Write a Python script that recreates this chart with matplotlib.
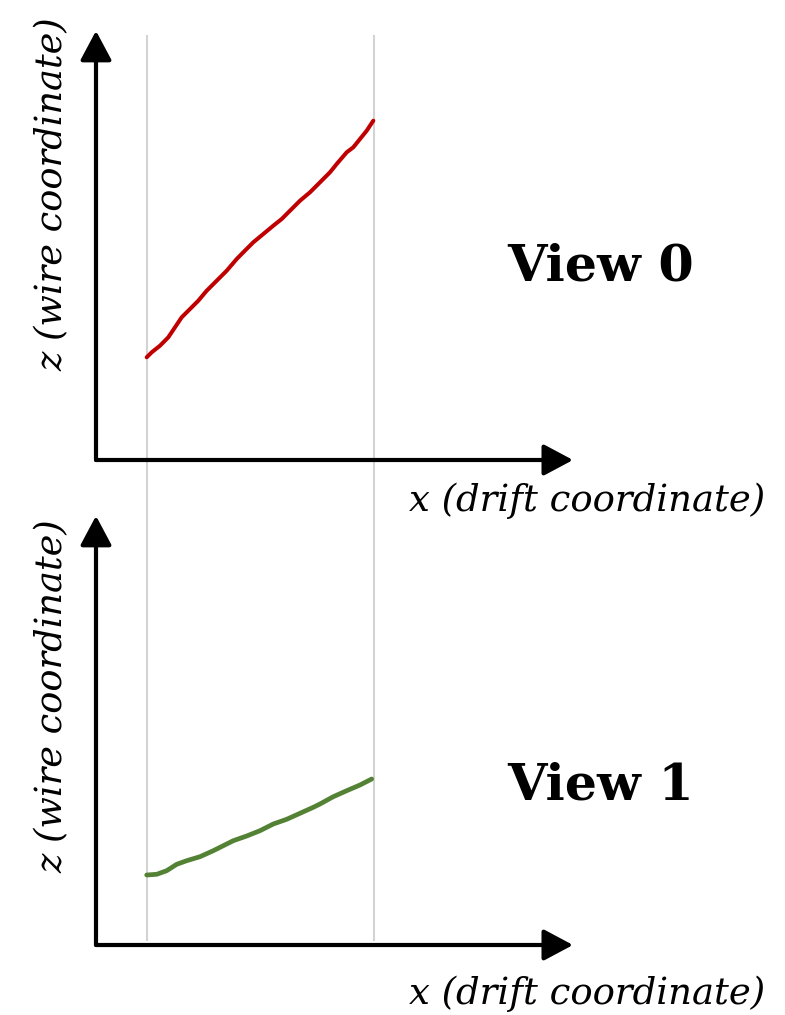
import matplotlib
matplotlib.use("Agg")
import matplotlib.pyplot as plt
from matplotlib.lines import Line2D
from matplotlib.transforms import blended_transform_factory

# ---- data (drift coordinate x, wire coordinate z; arbitrary units) ----
view0_x = [50.7, 55.7, 64, 72.3, 79, 85.7, 94, 102.3, 110.7, 120.7, 130.7, 140.7,
           147.3, 157.3, 167.3, 177.3, 185.7, 194, 204, 214, 224, 234, 240.7,
           250.7, 257.3, 264, 270.7, 277.3]
view0_z = [102.7, 107.7, 114.3, 122.7, 132.7, 142.7, 151, 159.3, 169.3, 179.3, 189.3,
           201, 207.7, 217.7, 226, 234.3, 241, 249.3, 259.3, 267.7, 277.7, 287.7,
           296, 307.7, 312.7, 321, 329.3, 339.3]
view1_x = [50.7, 60.7, 70.7, 80.7, 90.7, 104, 117.3, 130.7, 137.3, 150.7, 164, 177.3,
           190.7, 204, 217.3, 224, 237.3, 250.7, 264, 275.7]
view1_z = [70, 70.7, 74.3, 80.7, 84.3, 88.3, 94.3, 101, 104.3, 109, 114.3, 121,
           125.7, 131.7, 137.7, 141, 148.3, 154.3, 160, 166]
drift_window = [51, 278]   # x positions of the vertical guide lines
x_range = [0, 477]
z_range = [0, 427]

view_labels = ["View 0", "View 1"]
x_label = "x (drift coordinate)"
z_label = "z (wire coordinate)"

W, H = 785, 1015
fig = plt.figure(figsize=(W / 100, H / 100), dpi=100)
fig.patch.set_facecolor("white")

def fx(px):
    return px / W

def fy(py):
    return 1 - py / H

ax_top = fig.add_axes([fx(96), fy(460), fx(477), 427 / H], zorder=2)
ax_bot = fig.add_axes([fx(96), fy(945), fx(477), 427 / H], zorder=2)

for ax in (ax_top, ax_bot):
    ax.set_xlim(*x_range)
    ax.set_ylim(*z_range)
    ax.set_facecolor("none")
    for s in ax.spines.values():
        s.set_visible(False)
    ax.set_xticks([])
    ax.set_yticks([])
    arrow = dict(arrowstyle="-|>,head_length=0.9,head_width=0.48", mutation_scale=20,
                 color="black", lw=3.0, shrinkA=0, shrinkB=0)
    ax.annotate("", xy=(1, 0), xytext=(0, 0), xycoords="axes fraction",
                textcoords="axes fraction", arrowprops=arrow, annotation_clip=False)
    ax.annotate("", xy=(0, 1.005), xytext=(0, 0), xycoords="axes fraction",
                textcoords="axes fraction", arrowprops=arrow, annotation_clip=False)

ax_top.plot(view0_x, view0_z, color="#c00000", lw=2.9, solid_capstyle="round",
            solid_joinstyle="round", clip_on=False)
ax_bot.plot(view1_x, view1_z, color="#548235", lw=3.4, solid_capstyle="round",
            solid_joinstyle="round", clip_on=False)

# vertical guide lines spanning both panels
tr = blended_transform_factory(ax_top.transData, fig.transFigure)
for xv in drift_window:
    fig.add_artist(Line2D([xv, xv], [fy(36), fy(940)], transform=tr,
                          color="#d3d3d3", lw=1.5, zorder=1))

renderer = fig.canvas.get_renderer()

def fit(t, target_px, vertical=False):
    bb = t.get_window_extent(renderer=renderer)
    size = bb.height if vertical else bb.width
    t.set_fontsize(t.get_fontsize() * target_px / size)

serif_it = dict(family=["DejaVu Serif"], style="italic")

for py in (501, 994):
    t = fig.text(fx(765), fy(py), x_label, ha="right", va="center",
                 fontsize=23, **serif_it)
    fit(t, 357)
for py in (194, 696):
    t = fig.text(fx(53), fy(py), z_label, ha="center", va="center", rotation=90,
                 fontsize=23, **serif_it)
    fit(t, 355, vertical=True)

for lab, py in zip(view_labels, (267, 786)):
    t = fig.text(fx(601), fy(py), lab, ha="center", va="center", fontsize=36,
                 fontweight="bold", family=["DejaVu Serif"])
    fit(t, 187)

fig.savefig("out.png", dpi=100, facecolor="white")
